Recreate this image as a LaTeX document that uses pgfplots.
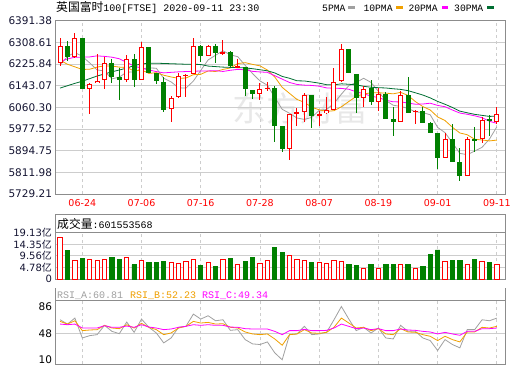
\documentclass[border=0pt]{standalone}
\usepackage{fontspec}
\setmainfont{DejaVu Sans}
\newfontfamily\cjk{Noto Sans CJK SC}
\newfontfamily\mono{Liberation Mono}
\usepackage{pgfplots}
\usepackage{pgfplotstable}
\pgfplotsset{compat=1.18}

\definecolor{cred}{RGB}{255,0,0}
\definecolor{cgreen}{RGB}{0,128,0}
\definecolor{maA}{RGB}{160,160,160}
\definecolor{maB}{RGB}{240,160,0}
\definecolor{maC}{RGB}{255,0,255}
\definecolor{maD}{RGB}{0,110,50}
\definecolor{gridc}{RGB}{205,205,205}
\definecolor{framec}{RGB}{140,140,140}
\definecolor{lab}{RGB}{20,20,50}
\definecolor{wm}{RGB}{232,232,232}

% red (rising) candles: index open high low close volume(yi)
\pgfplotstableread{
i o h l c v
0 6228 6325 6217 6296 17.2
2 6252.5 6344 6250 6325 7.5
4 6130 6153 6034 6149 7.9
5 6154 6265 6153 6162 7.5
6 6164.4 6252.5 6130 6229.5 7.9
9 6164 6261.4 6159 6243.5 9.0
11 6164 6308.6 6163 6290.7 7.8
15 6053.4 6104.4 6006 6095.5 7.0
16 6099.3 6191 6098 6178.5 6.3
17 6182 6186 6099 6185 7.4
18 6187.4 6325.2 6186 6293.3 8.2
20 6257.6 6299 6255 6295.8 7.0
22 6266 6318.8 6261.4 6270 8.2
24 6213 6245 6209 6219.3 5.9
27 6112 6153 6089 6130 6.6
28 6132 6159 6121 6134 7.8
31 5900 6034 5859 6034 9.8
32 6038 6057.6 5989.6 6040 8.2
33 6041.9 6117 6006 6107 7.8
35 6031 6048 5990 6034 6.7
36 6038 6099 6034 6050.8 6.6
37 6050.8 6210.3 6050 6156.7 7.8
38 6159.3 6303.5 6158 6283 7.4
41 6095.5 6142.7 6063.6 6130 4.5
43 6080 6134 6047 6110.8 4.5
46 6006 6122 6005 6107 5.9
48 6043 6051 5996 6046 4.5
52 5865.8 5961.5 5865 5939.8 7.4
55 5799.4 5948.8 5799 5939.8 5.9
57 5939.8 6025 5925.8 6012.5 7.1
59 6006 6060 5996 6034 6.02
}\redc

% green (falling) candles
\pgfplotstableread{
i o h l c v
1 6296 6315 6236 6251 11.6
3 6325 6325 6130 6130 8.3
7 6229.5 6244.8 6153 6174.6 8.7
8 6174.6 6210.3 6086.5 6164.4 7.9
10 6244.8 6265 6140 6164.4 5.9
12 6290.7 6291 6190 6191.2 6.7
13 6191 6192 6149 6159.3 6.7
14 6156.7 6175.9 6043 6050.8 7.1
19 6295.8 6300 6232 6255 5.5
21 6295.8 6303.5 6229.5 6267.8 5.05
23 6271.6 6276.7 6213 6216.7 8.3
25 6214 6215 6102 6130 7.1
26 6127.4 6128 6091.7 6110.8 8.7
29 6134 6140 5927 5989.6 13.2
30 5989.6 5990 5890 5900.2 10.8
34 6107 6108 5983 6029 6.7
39 6283 6284 6190 6191.2 5.9
40 6188.6 6189 6040.6 6095.5 5.5
42 6134 6165.7 6070 6078.9 5.9
44 6112 6120 6014 6016.4 5.9
45 6016.4 6061 5951 6006 5.9
47 6107 6176 6039 6040.6 5.9
49 6048 6061 6001 6002 5.05
50 6002 6003 5963 5964 10.0
51 5961.5 5962 5825 5865.8 12.0
53 5939.8 5997 5852 5853 7.5
54 5853 5904 5780 5799.4 7.5
56 5939.8 5984.5 5891.3 5933.5 7.9
58 6016.4 6031.7 5951 6010 6.7
}\greenc

% moving averages
\pgfplotstableread{
i m5 m10 m20 m30
0 6222 6240 6236 6134
1 6255 6225 6245 6143
2 6270 6215 6252 6152
3 6255 6205 6252 6160
4 6230.2 6206 6253 6170
5 6203.4 6214 6257 6180
6 6199.1 6219 6255 6188
7 6169.0 6218 6252 6196
8 6175.9 6214 6246 6203
9 6194.8 6212.5 6232 6210
10 6195.3 6199.3 6218 6220
11 6207.5 6203.3 6210 6226
12 6210.8 6189.9 6203 6229
13 6209.8 6192.9 6197 6229
14 6171.3 6183.0 6192 6228
15 6157.5 6176.4 6194 6227
16 6135.1 6171.3 6196 6226
17 6133.8 6172.3 6197 6225
18 6160.6 6185.2 6198 6225
19 6201.5 6186.4 6199.4 6224
20 6241.5 6199.5 6199.4 6218
21 6259.4 6197.2 6200.3 6216
22 6276.4 6205.1 6197.5 6214
23 6261.1 6210.8 6201.9 6213
24 6253.9 6227.7 6205.4 6212
25 6220.8 6231.1 6203.8 6211
26 6189.4 6224.4 6197.8 6208
27 6161.4 6218.9 6195.6 6204
28 6144.8 6202.9 6194.1 6200
29 6098.9 6176.4 6181.4 6191.8
30 6052.9 6136.8 6168.2 6178.6
31 6037.6 6113.5 6155.3 6171.3
32 6019.6 6090.5 6147.8 6161.8
33 6014.2 6079.5 6145.2 6161.1
34 6022.0 6060.5 6144.1 6157.1
35 6048.8 6050.9 6141.0 6152.8
36 6052.2 6044.9 6134.6 6146.8
37 6075.5 6047.5 6133.2 6146.2
38 6110.7 6062.4 6132.7 6150.2
39 6143.1 6082.6 6129.5 6148.5
40 6155.4 6102.1 6119.5 6146.2
41 6171.3 6111.7 6112.6 6140.8
42 6155.7 6115.6 6103.0 6137.1
43 6121.3 6116.0 6097.7 6135.4
44 6086.3 6114.7 6087.6 6134.3
45 6068.4 6111.9 6081.4 6131.3
46 6063.8 6117.6 6081.2 6128.9
47 6056.2 6105.9 6076.7 6124.1
48 6043.2 6082.2 6072.3 6115.9
49 6040.3 6063.3 6073.0 6107.4
50 6031.9 6050.2 6076.1 6096.4
51 5983.7 6023.8 6067.7 6083.0
52 5963.5 6009.8 6062.7 6072.0
53 5924.9 5984.1 6050.0 6059.8
54 5884.4 5962.4 6038.5 6045.9
55 5879.6 5955.7 6033.8 6039.5
56 5893.1 5938.4 6028.0 6033.6
57 5907.6 5935.6 6020.8 6029.7
58 5939.0 5932.0 6007.1 6025.6
59 5986.0 5935.2 5999.3 6027.0
}\matab

% RSI
\pgfplotstableread{
i a b c
0 67.2 64.9 61.1
1 61.1 61.1 60.2
2 69.6 65.8 61.1
3 41.4 51.8 55.5
4 44.7 52.7 55.5
5 46.1 53.2 55.5
6 59.3 59.3 58.8
7 50.8 55.5 56.5
8 47.5 54.6 56.5
9 64.0 60.2 58.3
10 49.4 55.5 56.5
11 68.2 62.1 60.2
12 56.5 56.5 56.9
13 48.5 53.2 55.5
14 34.4 46.1 53.2
15 41.4 48.5 54.1
16 56.5 55.5 56.5
17 57.9 57.9 57.9
18 75.2 64.9 60.2
19 68.2 62.6 59.3
20 72.9 63.5 60.2
21 65.8 61.1 59.3
22 67.2 61.6 59.3
23 52.2 56.5 56.9
24 53.2 55.5 56.5
25 39.1 49.9 54.6
26 33.0 47.1 54.1
27 32.1 46.1 54.1
28 35.8 47.1 54.1
29 20.3 40.0 50.8
30 10.5 31.1 46.1
31 46.1 46.1 51.8
32 47.1 47.1 51.8
33 57.9 53.2 53.6
34 46.1 48.5 51.8
35 47.1 48.0 51.8
36 49.4 49.4 52.2
37 67.2 56.5 55.5
38 86.0 69.6 61.1
39 68.2 62.6 57.9
40 51.8 55.5 54.6
41 56.5 56.5 55.5
42 48.5 51.8 53.2
43 55.5 54.6 54.6
44 41.4 47.1 51.8
45 40.0 46.1 51.8
46 59.3 54.6 54.1
47 50.8 49.9 52.7
48 50.8 49.4 52.2
49 41.4 46.1 50.8
50 37.7 43.8 49.9
51 23.6 37.7 47.1
52 39.1 43.8 49.4
53 32.1 39.1 47.1
54 27.4 35.8 45.2
55 53.2 49.9 50.8
56 53.2 49.9 50.8
57 67.2 56.5 54.6
58 65.8 55.5 54.6
59 69.6 57.9 55.5
}\rsitab

\pgfplotsset{
  panel/.style={
    scale only axis, anchor=south west,
    width=449.5pt,
    xmin=-0.62, xmax=60.1,
    xtick={3,11,19,27,35,43,51,59},
    xmajorgrids, ymajorgrids,
    x grid style={gridc, dash pattern=on 3pt off 3pt, line width=0.8pt},
    y grid style={gridc, line width=0.8pt},
    axis line style={framec, line width=1pt},
    major tick length=0pt,
    yticklabel style={text=lab, font=\fontsize{10.5}{12}\selectfont},
  },
}

\begin{document}
\begin{tikzpicture}[x=1pt,y=1pt]
\useasboundingbox (0,0) rectangle (520,365);

% title and legend
\node[anchor=base west, inner sep=0] at (56,353.2)
  {{\cjk\fontsize{11.8}{12}\selectfont 英国富时}{\mono\fontsize{10}{12}\selectfont 100[FTSE] 2020-09-11 23:30}};
\node[anchor=base west, inner sep=0] at (322,353.2) {\mono\fontsize{9.7}{12}\selectfont 5PMA};
\fill[maA] (348,355.8) rectangle (355,359);
\node[anchor=base west, inner sep=0] at (363.3,353.2) {\mono\fontsize{9.7}{12}\selectfont 10PMA};
\fill[maB] (396,355.8) rectangle (402.5,359);
\node[anchor=base west, inner sep=0] at (408.3,353.2) {\mono\fontsize{9.7}{12}\selectfont 20PMA};
\fill[maC] (441.7,355.8) rectangle (448.3,359);
\node[anchor=base west, inner sep=0] at (454,353.2) {\mono\fontsize{9.7}{12}\selectfont 30PMA};
\fill[maD] (487,355.8) rectangle (494,359);

% watermark
\node[text=wm, inner sep=0] at (300,257) {\cjk\fontsize{34}{36}\selectfont 东方财富};

% ---------- price panel ----------
\begin{axis}[panel,
  at={(55.5pt,171pt)}, height=173.3pt,
  ymin=5729.21, ymax=6391.38,
  ytick={5729.21,5811.98,5894.75,5977.52,6060.30,6143.07,6225.84,6308.61,6391.38},
  yticklabels={5729.21,5811.98,5894.75,5977.52,6060.30,6143.07,6225.84,6308.61,6391.38},
  xticklabels={06-24,07-06,07-16,07-28,08-07,08-19,09-01,09-11},
  xticklabel style={text=cred, font=\fontsize{9.5}{11}\selectfont, yshift=-1.5pt},
]
% moving averages
\addplot[maA, line width=0.8pt, mark=none] table[x=i,y=m5]{\matab};
\addplot[maB, line width=0.8pt, mark=none] table[x=i,y=m10]{\matab};
\addplot[maC, line width=0.8pt, mark=none] table[x=i,y=m20]{\matab};
\addplot[maD, line width=0.8pt, mark=none] table[x=i,y=m30]{\matab};
% wicks
\addplot[draw=none, mark=none,
  error bars/.cd, y dir=both, y explicit, error mark=none,
  error bar style={draw=cred, solid, line width=1pt}]
  table[x=i, y expr={(\thisrow{h}+\thisrow{l})/2}, y error expr={(\thisrow{h}-\thisrow{l})/2}]{\redc};
\addplot[draw=none, mark=none,
  error bars/.cd, y dir=both, y explicit, error mark=none,
  error bar style={draw=cgreen, solid, line width=1pt}]
  table[x=i, y expr={(\thisrow{h}+\thisrow{l})/2}, y error expr={(\thisrow{h}-\thisrow{l})/2}]{\greenc};
% bodies
\addplot[draw=none, mark=none,
  error bars/.cd, y dir=both, y explicit, error mark=none,
  error bar style={draw=cgreen, solid, line width=5pt}]
  table[x=i, y expr={(\thisrow{o}+\thisrow{c})/2}, y error expr={max((\thisrow{o}-\thisrow{c})/2,1.9)}]{\greenc};
\addplot[draw=none, mark=none,
  error bars/.cd, y dir=both, y explicit, error mark=none,
  error bar style={draw=cred, solid, line width=5pt}]
  table[x=i, y expr={(\thisrow{o}+\thisrow{c})/2}, y error expr={max((\thisrow{c}-\thisrow{o})/2,1.9)}]{\redc};
\addplot[draw=none, mark=none,
  error bars/.cd, y dir=both, y explicit, error mark=none,
  error bar style={draw=white, solid, line width=3pt}]
  table[x=i, y expr={(\thisrow{o}+\thisrow{c})/2}, y error expr={max((\thisrow{c}-\thisrow{o})/2-3.8,0)}]{\redc};
\end{axis}

% ---------- volume panel ----------
\begin{axis}[panel,
  at={(55.5pt,86pt)}, height=64pt,
  ymin=0, ymax=26.44,
  ytick={0,4.78,9.56,14.35,19.13},
  yticklabels={0,{4.78{\cjk 亿}},{9.56{\cjk 亿}},{14.35{\cjk 亿}},{19.13{\cjk 亿}}},
  yticklabel style={text=lab, font=\fontsize{10}{11}\selectfont},
  xticklabels=\empty,
]
\addplot[ybar, bar width=4.3pt, bar shift=0pt, draw=cred, fill=white, line width=0.9pt] table[x=i,y=v]{\redc};
\addplot[ybar, bar width=4.3pt, bar shift=0pt, draw=cgreen, fill=cgreen, line width=0.9pt] table[x=i,y=v]{\greenc};
\draw[framec, line width=1pt] (rel axis cs:0,0) ++(0,0) (axis cs:-0.62,19.13) -- (axis cs:60.1,19.13);
\fill[white] (axis cs:-0.6,19.3) rectangle (axis cs:60.08,26.3);
\end{axis}
\node[anchor=base west, inner sep=0] at (57,136.8)
  {{\cjk\fontsize{11.8}{12}\selectfont 成交量}{\mono\fontsize{10}{12}\selectfont :601553568}};

% ---------- RSI panel ----------
\begin{axis}[panel,
  at={(55.5pt,1pt)}, height=75.7pt,
  ymin=4.5, ymax=111.8,
  ytick={10,86}, yticklabels={10,86},
  extra y ticks={48}, extra y tick labels={48},
  extra y tick style={ymajorgrids=true, yticklabel style={text=black}},
  ymajorgrids=false,
  yticklabel style={text=black},
  xticklabels=\empty,
]
\addplot[maA, line width=0.8pt, mark=none] table[x=i,y=a]{\rsitab};
\addplot[maB, line width=0.8pt, mark=none] table[x=i,y=b]{\rsitab};
\addplot[maC, line width=0.8pt, mark=none] table[x=i,y=c]{\rsitab};
\fill[white] (axis cs:-0.6,94) rectangle (axis cs:60.08,111.6);
\draw[framec, line width=1pt] (axis cs:-0.62,93.8) -- (axis cs:60.1,93.8);
\end{axis}
\node[anchor=base west, inner sep=0] at (57,66.7)
  {\mono\fontsize{10}{12}\selectfont\textcolor{maA}{RSI\_A:60.81}\hspace{7pt}\textcolor{maB}{RSI\_B:52.23}\hspace{6pt}\textcolor{maC}{RSI\_C:49.34}};
\end{tikzpicture}
\end{document}
